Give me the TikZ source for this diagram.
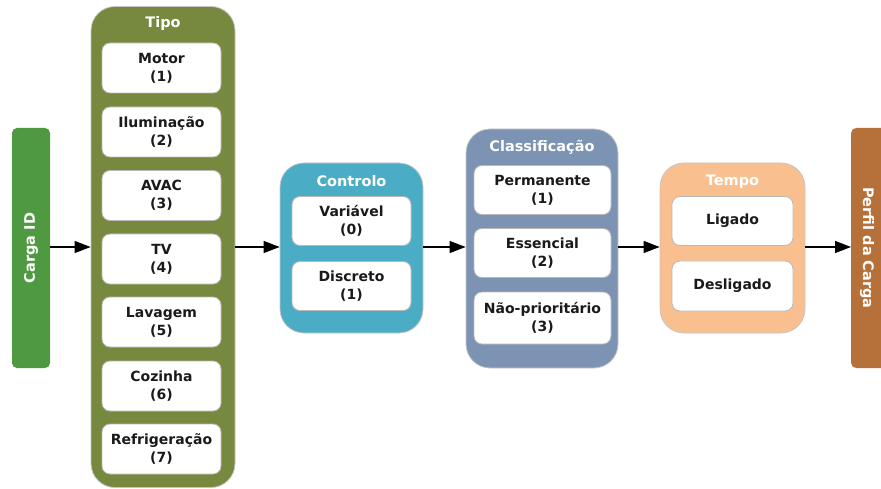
\documentclass[tikz,border=0pt]{standalone}
\usepackage{fontspec}
\setmainfont{DejaVu Sans}
\usetikzlibrary{arrows.meta}
\definecolor{cidgreen}{HTML}{4F9A40}
\definecolor{tipoolive}{HTML}{77893F}
\definecolor{ctrlaqua}{HTML}{4BACC6}
\definecolor{clsblue}{HTML}{7C93B3}
\definecolor{tempoorange}{HTML}{F9BF8F}
\definecolor{perfilbrown}{HTML}{B6703A}
\definecolor{txtdark}{HTML}{1A1A1A}
\tikzset{
  x=1pt, y=-1pt,
  outerbox/.style={draw=gray!45, line width=0.8pt, rounded corners=24pt, inner sep=0pt},
  sidebar/.style={rounded corners=5pt, inner sep=0pt, minimum width=38pt, minimum height=240pt},
  itembox/.style={draw=gray!55, line width=0.8pt, fill=white, rounded corners=8pt, inner sep=0pt,
    align=center, text=txtdark, font=\fontsize{14pt}{18pt}\selectfont\bfseries},
  titletext/.style={text=white, font=\fontsize{14.5pt}{17pt}\selectfont\bfseries, inner sep=0pt},
  bartext/.style={text=white, font=\fontsize{14.5pt}{17pt}\selectfont\bfseries, inner sep=0pt},
  flow/.style={-{Triangle[length=16pt,width=12pt]}, line width=1.3pt, black}
}
\begin{document}
\begin{tikzpicture}
\useasboundingbox (0,0) rectangle (881,489);
% side bars
\node[sidebar, fill=cidgreen] (cid) at (31,248) {};
\node[bartext, rotate=90] (cidt) at (cid.center) {Carga ID};
\node[sidebar, fill=perfilbrown, minimum width=50pt, anchor=west] (perfil) at (851,248) {};
\node[bartext, rotate=-90] (perfilt) at (867,248) {Perfil da Carga};
% Tipo
\node[outerbox, fill=tipoolive, minimum width=144pt, minimum height=481pt] (tipo) at (163,247) {};
\node[titletext] (tipot) at (163,24) {Tipo};
\node[itembox, minimum width=119pt, minimum height=50pt] (t1) at (161.5,68) {Motor\\(1)};
\node[itembox, minimum width=119pt, minimum height=50pt] (t2) at (161.5,132) {Iluminação\\(2)};
\node[itembox, minimum width=119pt, minimum height=50pt] (t3) at (161.5,195.5) {AVAC\\(3)};
\node[itembox, minimum width=119pt, minimum height=50pt] (t4) at (161.5,259) {TV\\(4)};
\node[itembox, minimum width=119pt, minimum height=50pt] (t5) at (161.5,322) {Lavagem\\(5)};
\node[itembox, minimum width=119pt, minimum height=50pt] (t6) at (161.5,386) {Cozinha\\(6)};
\node[itembox, minimum width=119pt, minimum height=50pt] (t7) at (161.5,449) {Refrigeração\\(7)};
% Controlo
\node[outerbox, fill=ctrlaqua, minimum width=143pt, minimum height=170pt] (ctrl) at (351.5,248) {};
\node[titletext] (ctrlt) at (351.5,181) {Controlo};
\node[itembox, minimum width=119pt, minimum height=49pt] (c1) at (351.5,221) {Variável\\(0)};
\node[itembox, minimum width=119pt, minimum height=49pt] (c2) at (351.5,286) {Discreto\\(1)};
% Classificacao
\node[outerbox, fill=clsblue, minimum width=152pt, minimum height=239pt] (cls) at (542,248.5) {};
\node[titletext] (clst) at (542,147) {Classificação};
\node[itembox, minimum width=137pt, minimum height=49pt] (k1) at (542.5,190) {Permanente\\(1)};
\node[itembox, minimum width=137pt, minimum height=49pt] (k2) at (542.5,253) {Essencial\\(2)};
\node[itembox, minimum width=137pt, minimum height=52pt] (k3) at (542.5,318) {Não-prioritário\\(3)};
% Tempo
\node[outerbox, fill=tempoorange, minimum width=145pt, minimum height=170pt] (tempo) at (732.5,248) {};
\node[titletext] (tempot) at (732.5,182) {Tempo};
\node[itembox, minimum width=121pt, minimum height=49pt] (m1) at (732.5,221) {Ligado};
\node[itembox, minimum width=121pt, minimum height=50pt] (m2) at (732.5,286) {Desligado};
% connectors
\draw[flow] (cid.east |- 0,247) -- (tipo.west |- 0,247);
\draw[flow] (tipo.east |- 0,247) -- (ctrl.west |- 0,247);
\draw[flow] (ctrl.east |- 0,247) -- (cls.west |- 0,247);
\draw[flow] (cls.east |- 0,247) -- (tempo.west |- 0,247);
\draw[flow] (tempo.east |- 0,247) -- (perfil.west |- 0,247);
\end{tikzpicture}
\end{document}
